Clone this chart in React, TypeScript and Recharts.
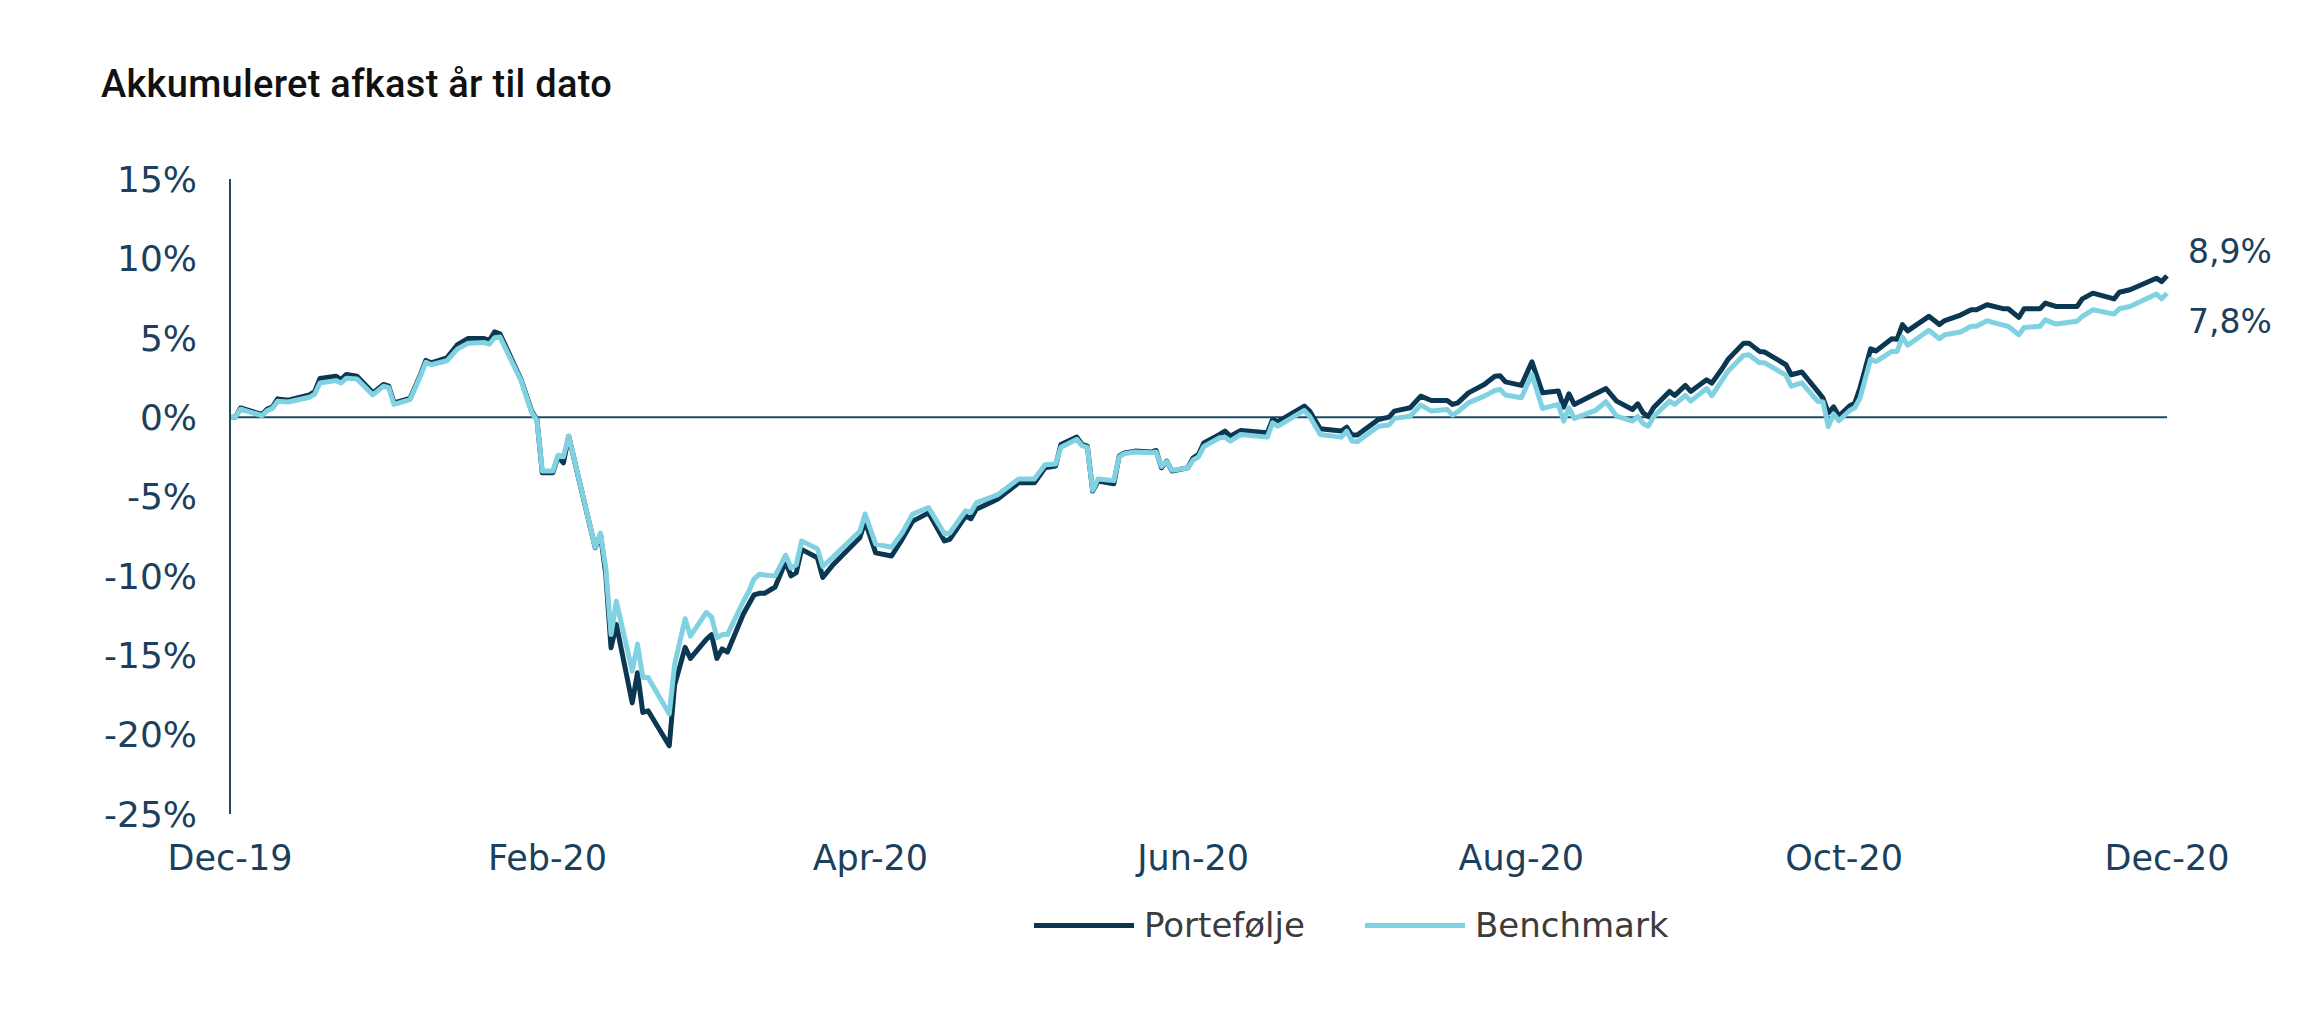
import React from 'react';
import { LineChart, Line, XAxis, YAxis, ReferenceLine, Legend, LabelList } from 'recharts';

// trading days counted from 31 Dec 2019
const days = [
  0, 1, 2, 6, 7, 8, 9, 11, 15, 16, 17, 20, 21, 22, 24, 27, 29, 30, 31, 34,
  36, 37, 38, 41, 43, 45, 48, 49, 50, 51, 55, 57, 58, 59, 61, 62, 63, 64, 66, 69,
  70, 71, 72, 73, 76, 77, 78, 79, 83, 84, 86, 87, 90, 91, 92, 93, 94, 97, 98, 99,
  100, 101, 103, 105, 106, 107, 108, 111, 112, 114, 119, 120, 122, 125, 127, 129, 132, 135, 136, 139,
  140, 141, 145, 149, 152, 154, 156, 157, 160, 161, 162, 163, 164, 167, 168, 169, 171, 174, 175, 176,
  177, 178, 181, 182, 183, 184, 187, 188, 189, 191, 196, 197, 198, 203, 204, 206, 210, 211, 212, 213,
  217, 219, 220, 223, 225, 227, 230, 231, 232, 234, 237, 239, 240, 241, 244, 246, 248, 251, 252, 253,
  254, 258, 260, 262, 265, 266, 267, 268, 269, 272, 273, 275, 276, 279, 280, 282, 283, 286, 287, 289,
  290, 294, 295, 297, 300, 301, 302, 303, 304, 306, 307, 308, 310, 311, 314, 315, 316, 317, 321, 323,
  324, 327, 329, 330, 332, 335, 336, 338, 339, 342, 343, 345, 349, 350, 352, 356, 357, 359, 364, 365,
  366,
];

const portfolio = [
  0, 0, 0.58, 0.17, 0.5, 0.63, 1.15, 1.07, 1.4, 1.6, 2.43, 2.58, 2.37, 2.69, 2.58, 1.53, 2.06, 1.95, 0.9, 1.18,
  2.69, 3.57, 3.42, 3.73, 4.57, 4.95, 4.95, 4.83, 5.37, 5.25, 2.37, 0.38, -0.15, -3.5, -3.5, -2.46, -2.88, -1.2, -4.03, -8.23,
  -7.39, -9.9, -14.53, -13.06, -18.0, -16.1, -18.6, -18.5, -20.7, -16.9, -14.5, -15.2, -14.0, -13.7, -15.2, -14.6, -14.8, -12.4, -11.8, -11.2,
  -11.1, -11.1, -10.7, -9.1, -10.0, -9.8, -8.33, -8.86, -10.1, -9.28, -7.6, -6.55, -8.55, -8.75, -7.7, -6.55, -6.03, -7.8, -7.7, -6.23,
  -6.4, -5.81, -5.18, -4.14, -4.14, -3.19, -3.08, -1.72, -1.26, -1.72, -1.83, -4.66, -4.03, -4.2, -2.46, -2.25, -2.14, -2.2, -2.1, -3.19,
  -2.77, -3.4, -3.19, -2.56, -2.35, -1.62, -1.09, -0.88, -1.2, -0.84, -0.99, -0.15, -0.29, 0.69, 0.38, -0.73, -0.88, -0.63, -1.13, -1.13,
  -0.15, 0, 0.38, 0.59, 1.32, 1.05, 1.05, 0.8, 0.9, 1.53, 2.06, 2.58, 2.6, 2.22, 2.0, 3.48, 1.53, 1.64, 0.63, 1.47,
  0.8, 1.47, 1.8, 1.01, 0.48, 0.84, 0.27, 0.04, 0.61, 1.62, 1.37, 2.0, 1.62, 2.35, 2.14, 3.08, 3.61, 4.66, 4.66, 4.14,
  4.1, 3.3, 2.67, 2.84, 1.62, 1.2, 0.27, 0.65, 0.07, 0.7, 0.88, 1.85, 4.3, 4.17, 4.93, 4.9, 5.83, 5.43, 6.35, 5.83,
  6.08, 6.43, 6.76, 6.76, 7.08, 6.83, 6.83, 6.28, 6.83, 6.83, 7.18, 6.97, 6.97, 7.45, 7.81, 7.45, 7.87, 8.02, 8.75, 8.54,
  8.9,
];

const benchmark = [
  0, 0, 0.5, 0.1, 0.4, 0.55, 1.0, 0.95, 1.25, 1.45, 2.15, 2.3, 2.15, 2.45, 2.4, 1.4, 1.95, 1.85, 0.8, 1.1,
  2.6, 3.45, 3.3, 3.55, 4.3, 4.65, 4.7, 4.6, 5.0, 5.05, 2.3, 0.3, -0.2, -3.4, -3.4, -2.4, -2.5, -1.2, -4.0, -8.2,
  -7.3, -9.5, -13.7, -11.6, -16.0, -14.3, -16.4, -16.4, -18.7, -15.6, -12.7, -13.8, -12.3, -12.6, -13.9, -13.7, -13.7, -11.6, -11.0, -10.2,
  -9.9, -9.95, -10.0, -8.7, -9.5, -9.3, -7.8, -8.3, -9.4, -8.8, -7.2, -6.1, -8.0, -8.2, -7.3, -6.1, -5.7, -7.35, -7.3, -5.9,
  -6.0, -5.4, -4.9, -3.9, -3.9, -3.0, -2.95, -1.9, -1.4, -1.8, -1.9, -4.6, -3.9, -4.0, -2.5, -2.3, -2.2, -2.25, -2.2, -3.1,
  -2.8, -3.35, -3.2, -2.7, -2.5, -1.85, -1.3, -1.26, -1.51, -1.09, -1.26, -0.36, -0.57, 0.42, 0.06, -1.09, -1.26, -0.88, -1.51, -1.55,
  -0.57, -0.5, -0.08, 0.06, 0.76, 0.38, 0.48, 0.13, 0.34, 0.9, 1.32, 1.68, 1.74, 1.39, 1.22, 2.69, 0.55, 0.8, -0.25, 0.59,
  -0.08, 0.42, 0.97, 0.06, -0.25, 0.04, -0.4, -0.57, 0.04, 1.01, 0.8, 1.37, 1.01, 1.8, 1.35, 2.35, 2.88, 3.89, 3.93, 3.42,
  3.42, 2.64, 1.95, 2.16, 1.0, 0.96, -0.6, 0.2, -0.23, 0.4, 0.59, 1.2, 3.65, 3.5, 4.14, 4.14, 5.04, 4.53, 5.47, 4.94,
  5.19, 5.36, 5.72, 5.72, 6.07, 5.8, 5.72, 5.19, 5.65, 5.72, 6.13, 5.86, 6.04, 6.34, 6.76, 6.49, 6.83, 6.97, 7.75, 7.45,
  7.8,
];

const seriesNames = ['Portefølje', 'Benchmark'];
const xTicks = [0, 60, 121, 182, 244, 305, 366];
const xTickLabels = ['Dec-19', 'Feb-20', 'Apr-20', 'Jun-20', 'Aug-20', 'Oct-20', 'Dec-20'];
const yTicks = [-25, -20, -15, -10, -5, 0, 5, 10, 15];

const data = days.map((day, i) => ({ day, p: portfolio[i], b: benchmark[i] }));

const NAVY = '#0b3752';
const CYAN = '#80d1e1';
const AXIS = '#1f4a66';
const TEXT = '#1b3f5c';
const FONT = '"DejaVu Sans", Roboto, sans-serif';
const TITLE_FONT = 'Roboto, "DejaVu Sans", sans-serif';

const lastIndex = data.length - 1;

const endLabel = (dy: number, color: string) => (props: any) => {
  const { x, y, index, value } = props;
  if (index !== lastIndex) return null;
  return (
    <text x={x + 21} y={y + dy} fill={color} fontSize={33} fontFamily={FONT} dominantBaseline="central">
      {`${Number(value).toFixed(1).replace('.', ',')}%`}
    </text>
  );
};

const LegendContent = (props: any) => {
  const payload = [...(props.payload || [])].sort(
    (a: any, b: any) => seriesNames.indexOf(a.value) - seriesNames.indexOf(b.value)
  );
  return (
    <div style={{ display: 'flex', alignItems: 'center', fontFamily: FONT }}>
      {payload.map((entry: any) => (
        <div key={entry.value} style={{ display: 'flex', alignItems: 'center', marginRight: 60 }}>
          <div style={{ width: 100, height: 5, background: entry.color, marginRight: 10 }} />
          <span style={{ fontSize: 34, color: '#3c3c3c' }}>{entry.value}</span>
        </div>
      ))}
    </div>
  );
};

const App: React.FC = () => {
  return (
    <div style={{ position: 'absolute', left: 0, top: 0, width: 2324, height: 1028, background: '#fff' }}>
      <div
        style={{
          position: 'absolute',
          left: 101,
          top: 62,
          fontFamily: TITLE_FONT,
          fontSize: 38,
          fontWeight: 500,
          lineHeight: '44px',
          letterSpacing: 0.3,
          color: '#111',
        }}
      >
        Akkumuleret afkast år til dato
      </div>
      <div style={{ position: 'absolute', left: 0, top: 0 }}>
        <LineChart width={2324} height={1028} data={data} margin={{ top: 179, right: 157, bottom: 154, left: 100 }}>
          <XAxis
            dataKey="day"
            type="number"
            domain={[0, 366]}
            ticks={xTicks}
            interval={0}
            height={60}
            axisLine={false}
            tickLine={false}
            tickSize={0}
            tickMargin={31}
            tickFormatter={(v: number) => xTickLabels[xTicks.indexOf(v)] ?? ''}
            tick={{ fill: TEXT, fontSize: 35, fontFamily: FONT }}
          />
          <YAxis
            type="number"
            domain={[-25, 15]}
            ticks={yTicks}
            interval={0}
            width={130}
            axisLine={{ stroke: AXIS, strokeWidth: 2 }}
            tickLine={false}
            tickSize={0}
            tickMargin={33}
            tickFormatter={(v: number) => `${v}%`}
            tick={{ fill: TEXT, fontSize: 36, fontFamily: FONT }}
          />
          <ReferenceLine y={0} stroke={AXIS} strokeWidth={2} ifOverflow="extendDomain" />
          <Legend
            layout="horizontal"
            verticalAlign="middle"
            align="center"
            content={<LegendContent />}
            wrapperStyle={{ left: 1034, top: 905, width: 760, height: 46 }}
          />
          <Line
            type="linear"
            dataKey="p"
            name="Portefølje"
            stroke={NAVY}
            strokeWidth={5}
            strokeLinejoin="round"
            dot={false}
            activeDot={false}
            isAnimationActive={false}
          >
            <LabelList dataKey="p" content={endLabel(-24, TEXT)} />
          </Line>
          <Line
            type="linear"
            dataKey="b"
            name="Benchmark"
            stroke={CYAN}
            strokeWidth={5}
            strokeLinejoin="round"
            dot={false}
            activeDot={false}
            isAnimationActive={false}
          >
            <LabelList dataKey="b" content={endLabel(28, TEXT)} />
          </Line>
        </LineChart>
      </div>
    </div>
  );
};

export default App;
